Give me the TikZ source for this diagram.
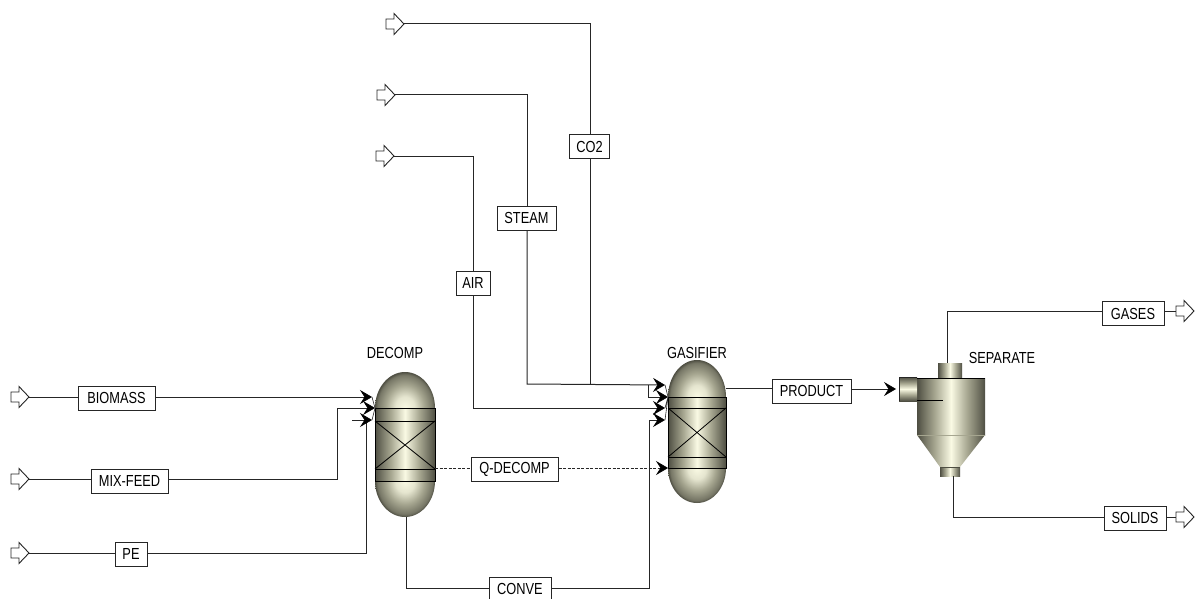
\documentclass[tikz,border=0pt]{standalone}
\usepackage{fontspec}
\setmainfont[FakeStretch=0.8]{Liberation Sans}
\usetikzlibrary{arrows.meta}
\definecolor{eqdark}{HTML}{4E4E42}
\definecolor{eqmid}{HTML}{A6A690}
\definecolor{eqlight}{HTML}{FAFAE4}
\definecolor{ln}{HTML}{262626}
\pgfdeclarehorizontalshading{eqbody}{100bp}{color(0bp)=(eqdark);color(25bp)=(eqdark);color(30bp)=(eqdark!60!eqmid);color(38bp)=(eqmid);color(50bp)=(eqlight);color(62bp)=(eqmid);color(70bp)=(eqdark!60!eqmid);color(75bp)=(eqdark);color(100bp)=(eqdark)}
\pgfdeclareverticalshading{eqvert}{100bp}{color(0bp)=(eqdark);color(25bp)=(eqdark);color(38bp)=(eqmid);color(50bp)=(eqlight);color(62bp)=(eqmid);color(75bp)=(eqdark);color(100bp)=(eqdark)}
\pgfdeclareradialshading{eqcap}{\pgfpointorigin}{color(0bp)=(eqlight);color(8bp)=(eqlight!75!eqmid);color(16bp)=(eqmid);color(23bp)=(eqdark!55!eqmid);color(25bp)=(eqdark);color(50bp)=(eqdark)}
\tikzset{
  stream/.style={draw=ln,line width=1pt},
  heat/.style={stream,dash pattern=on 3pt off 1.5pt},
  tipped/.style={-{Stealth[length=12pt,width=14pt,inset=4.5pt,line width=0.6pt,color=black,fill=black]}},
  portline/.style={draw=ln,line width=0.6pt},
  tag/.style={draw=ln,fill=white,line width=1pt,inner sep=0pt,minimum height=24pt,font=\fontsize{16}{17}\selectfont},
  title/.style={inner sep=0pt,font=\fontsize{16}{17}\selectfont},
  feedbox/.style={inner sep=0pt,minimum width=18pt,minimum height=21pt},
  feedline/.style={draw=ln,fill=white,line width=0.9pt,line join=miter},
  band/.style={draw=black,line width=0.9pt}
}
\newcommand{\feedarrow}[3]{%
  \node[feedbox] (#1) at (#2,#3) {};
  \draw[feedline] (#2-9,#3-5) -- (#2-1,#3-5) -- (#2-1,#3-10.5) -- (#2+9,#3) -- (#2-1,#3+10.5) -- (#2-1,#3+5) -- (#2-9,#3+5) -- cycle;
}
% name, left, right, top, band1..band4, bottom
\newcommand{\vesselshape}[9]{%
  \begin{scope}\clip (#2,#4) rectangle (#3,#5);
    \shade[shading=eqcap] ({(#2+#3)/2},#5) ellipse ({(#3-#2)/2} and {#5-#4});
  \end{scope}
  \begin{scope}\clip (#2,#8) rectangle (#3,#9);
    \shade[shading=eqcap] ({(#2+#3)/2},#8) ellipse ({(#3-#2)/2} and {#9-#8});
  \end{scope}
  \shade[shading=eqbody] (#2,#5) rectangle (#3,#8);
  \draw[band] (#2,#5) rectangle (#3,#8);
  \draw[band] (#2,#6) -- (#3,#6) (#2,#7) -- (#3,#7);
  \draw[band,line width=0.8pt] (#2,#6) -- (#3,#7) (#2,#7) -- (#3,#6);
  \node[inner sep=0pt,minimum width={(#3-#2)*1pt},minimum height={(#9-#4)*1pt}] (#1) at ({(#2+#3)/2},{(#4+#9)/2}) {};
}
\begin{document}
\begin{tikzpicture}[x=1pt,y=-1pt]
\useasboundingbox (0,0) rectangle (1198,599);
\fill[white] (0,0) rectangle (1198,599);

% vessels
\vesselshape{decomp}{375}{435}{372}{408}{421}{469}{481}{517}
\vesselshape{gasifier}{668}{726}{360}{397}{408}{457}{468}{503}

% separator
\shade[shading=eqbody] (938,363) rectangle (962,378);
\shade[shading=eqbody] (940,467) rectangle (960,476);
\shade[shading=eqbody] (917,378) rectangle (985,435);
\shade[shading=eqbody] (917,435) -- (985,435) -- (960,467) -- (940,467) -- cycle;
\shade[shading=eqvert] (899,377) rectangle (917,401);
\draw[draw=ln,line width=0.8pt] (899,401) -- (899,377) -- (917,377);
\draw[draw=eqmid,line width=0.5pt] (917,435) -- (985,435);
\draw[draw=eqdark,line width=0.7pt] (940,467) -- (960,467);
\draw[band] (917,378) -- (985,378);
\draw[band] (917,400) -- (943,400);
\node[inner sep=0pt,minimum width=86pt,minimum height=113pt] (separate) at (942,419.5) {};

% titles
\node[title] (tdecomp) at (395,353) {DECOMP};
\node[title] (tgas) at (697,353) {GASIFIER};
\node[title] (tsep) at (1002,358) {SEPARATE};

% feed arrows
\feedarrow{fco2}{395}{24}
\feedarrow{fsteam}{386}{95}
\feedarrow{fair}{385}{156}
\feedarrow{fbio}{20}{397}
\feedarrow{fmix}{20}{479}
\feedarrow{fpe}{20}{553}
\feedarrow{pgases}{1185}{311}
\feedarrow{psolids}{1185}{517}

% tags
\node[tag,minimum width=40pt] (lco2) at (589.5,146.5) {CO2};
\node[tag,minimum width=59pt] (lsteam) at (526.5,218) {STEAM};
\node[tag,minimum width=34pt] (lair) at (473,283) {AIR};
\node[tag,minimum width=77pt] (lbio) at (116.5,398) {BIOMASS};
\node[tag,minimum width=77pt] (lmix) at (129.5,481) {MIX-FEED};
\node[tag,minimum width=32pt] (lpe) at (131,554) {PE};
\node[tag,minimum width=87pt] (lq) at (514.5,469) {Q-DECOMP};
\node[tag,minimum width=62pt] (lconve) at (520,589) {CONVE};
\node[tag,minimum width=79pt] (lprod) at (811.5,391) {PRODUCT};
\node[tag,minimum width=62pt] (lgases) at (1133,313.5) {GASES};
\node[tag,minimum width=62pt] (lsolids) at (1135,518) {SOLIDS};

% ports
\coordinate (dp1) at (372,397);
\coordinate (dp2) at (375,408);
\coordinate (dp3) at (372,420);
\coordinate (dstub) at (352,420);
\coordinate (gp1) at (665,385);
\coordinate (gp2) at (668,397);
\coordinate (gp3) at (665,408);
\coordinate (gp4) at (665,420);
\coordinate (gq) at (668,468);
\coordinate (dq) at (435,468);
\coordinate (dout) at (406,517);
\coordinate (gout) at (726,388);
\coordinate (sin) at (896,389);
\coordinate (stop) at (947,363);
\coordinate (sbot) at (953,476);

% connectors
\draw[stream] (fco2.east) -- (590,24) -- (590,134);
\draw[stream] (590,159) -- (590,384);
\draw[stream] (fsteam.east) -- (527,95) -- (527,206);
\draw[stream,tipped] (527,230) -- (527,384) -- (gp1);
\draw[stream,tipped] (648,385) -- (648,397) -- (gp2);
\draw[stream] (fair.east) -- (473,156) -- (lair.north);
\draw[stream,tipped] (lair.south) -- (473,408) -- (gp3);
\draw[stream] (fbio.east) -- (lbio.west |- fbio);
\draw[stream,tipped] (lbio.east |- dp1) -- (dp1);
\draw[stream] (fmix.east) -- (lmix.west |- fmix);
\draw[stream,tipped] (lmix.east |- fmix) -- (337,479) -- (337,408) -- (dp2);
\draw[stream] (fpe.east) -- (lpe.west |- fpe);
\draw[stream] (lpe.east |- fpe) -- (366,553) -- (366,420);
\draw[stream,tipped] (dstub) -- (dp3);
\draw[heat] (dq) -- (lq.west |- dq);
\draw[heat,tipped] (lq.east |- dq) -- (gq);
\draw[stream] (dout) -- (406,588) -- (lconve.west |- 0,588);
\draw[stream,tipped] (lconve.east |- 0,588) -- (649,588) -- (649,420) -- (gp4);
\draw[stream] (gout) -- (lprod.west |- gout);
\draw[stream,tipped] (lprod.east |- sin) -- (sin);
\draw[stream] (stop) -- (947,311) -- (lgases.west |- 0,311);
\draw[stream] (lgases.east |- 0,311) -- (pgases.west);
\draw[stream] (sbot) -- (953,517) -- (lsolids.west |- 0,517);
\draw[stream] (lsolids.east |- 0,517) -- (psolids.west);
\draw[portline] (dp1) -- (dp2) (dp3) -- (dp2);
\draw[portline] (gp1) -- (gp2) (gp3) -- (gp2) (gp4) -- (gp2);
\end{tikzpicture}
\end{document}
